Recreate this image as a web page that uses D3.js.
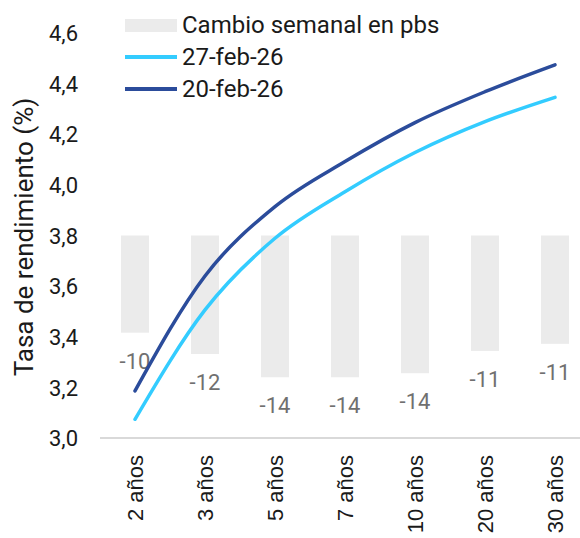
<!DOCTYPE html>
<html>
<head>
<meta charset="utf-8">
<script src="https://cdn.jsdelivr.net/npm/d3@7"></script>
<style>
  html, body { margin: 0; padding: 0; background: #fff; }
  svg { display: block; font-family: Roboto, "Noto Sans", sans-serif; }
</style>
</head>
<body>
<svg id="chart" width="580" height="538"></svg>
<script>
const categories = ["2 años", "3 años", "5 años", "7 años", "10 años", "20 años", "30 años"];
const cambioSemanal = [-9.6, -11.7, -14.0, -14.0, -13.6, -11.4, -10.7];
const feb27 = [3.074, 3.506, 3.789, 3.973, 4.128, 4.250, 4.346];
const feb20 = [3.186, 3.640, 3.914, 4.092, 4.246, 4.368, 4.474];
const yTicks = [3.0, 3.2, 3.4, 3.6, 3.8, 4.0, 4.2, 4.4, 4.6];
const seriesNames = ["Cambio semanal en pbs", "27-feb-26", "20-feb-26"];

const svg = d3.select("#chart");
const mLeft = 100, mRight = 590, mTop = 33, mBottom = 438;
const fontSize = 22;

const x = d3.scaleBand().domain(categories).range([mLeft, mRight]).paddingInner(0.6).paddingOuter(0.3);
const y = d3.scaleLinear().domain([3.0, 4.6]).range([mBottom, mTop]);
const y2 = d3.scaleLinear().domain([-20, 20]).range([mBottom, mTop]);

const lightBlue = "#33CCFF";
const darkBlue = "#2B4C9B";
const barGrey = "#EBEBEB";

// Y axis
const yAxis = d3.axisLeft(y).tickValues(yTicks).tickSize(0).tickPadding(0)
  .tickFormat(d => d3.format(".1f")(d).replace(".", ","));
const gy = svg.append("g").attr("transform", `translate(78,0)`).call(yAxis);
gy.select(".domain").remove();
gy.selectAll("text").attr("font-size", fontSize).attr("fill", "#1a1a1a")
  .attr("font-family", "Roboto").attr("dy", "0.35em");

// Axis title
svg.append("text")
  .attr("transform", `translate(33,${237}) rotate(-90)`)
  .attr("text-anchor", "middle")
  .attr("font-size", 26)
  .attr("fill", "#1a1a1a")
  .text("Tasa de rendimiento (%)");

// Bars
const barData = categories.map((c, i) => ({ c, v: cambioSemanal[i] }));
svg.append("g").selectAll("rect").data(barData).join("rect")
  .attr("x", d => x(d.c))
  .attr("width", x.bandwidth())
  .attr("y", d => y2(Math.max(0, d.v)))
  .attr("height", d => Math.abs(y2(d.v) - y2(0)))
  .attr("fill", barGrey);

// Bar labels
svg.append("g").selectAll("text").data(barData).join("text")
  .attr("x", d => x(d.c) + x.bandwidth() / 2)
  .attr("y", d => y2(d.v) + 36)
  .attr("text-anchor", "middle")
  .attr("font-size", fontSize)
  .attr("fill", "#707070")
  .text(d => String(Math.round(d.v)));

// X axis baseline
const xAxis = d3.axisBottom(x).tickSize(0).tickPadding(0);
const gx = svg.append("g").attr("transform", `translate(0,${mBottom})`).call(xAxis);
gx.select(".domain").attr("stroke", "#D9D9D9").attr("stroke-width", 2)
  .attr("d", `M${mLeft},0H${mRight}`);
gx.selectAll("text")
  .attr("font-size", fontSize)
  .attr("fill", "#1a1a1a")
  .attr("text-anchor", "end")
  .attr("transform", "rotate(-90)")
  .attr("x", -17)
  .attr("y", 0)
  .attr("dy", "0.35em");

// Lines
const line = d3.line()
  .x((d, i) => x(categories[i]) + x.bandwidth() / 2)
  .y(d => y(d))
  .curve(d3.curveMonotoneX);

svg.append("path").datum(feb27).attr("d", line)
  .attr("fill", "none").attr("stroke", lightBlue).attr("stroke-width", 3.5).attr("stroke-linecap", "round");
svg.append("path").datum(feb20).attr("d", line)
  .attr("fill", "none").attr("stroke", darkBlue).attr("stroke-width", 3.5).attr("stroke-linecap", "round");

// Legend
const lg = svg.append("g");
lg.append("rect").attr("x", 125).attr("y", 19).attr("width", 52).attr("height", 13).attr("fill", barGrey);
lg.append("line").attr("x1", 125).attr("x2", 177).attr("y1", 57).attr("y2", 57)
  .attr("stroke", lightBlue).attr("stroke-width", 4);
lg.append("line").attr("x1", 125).attr("x2", 177).attr("y1", 89).attr("y2", 89)
  .attr("stroke", darkBlue).attr("stroke-width", 4);
[25, 57, 89].forEach((yy, i) => {
  lg.append("text").attr("x", 182).attr("y", yy).attr("dy", "0.35em")
    .attr("font-size", 24).attr("fill", "#1a1a1a").text(seriesNames[i]);
});
</script>
</body>
</html>
